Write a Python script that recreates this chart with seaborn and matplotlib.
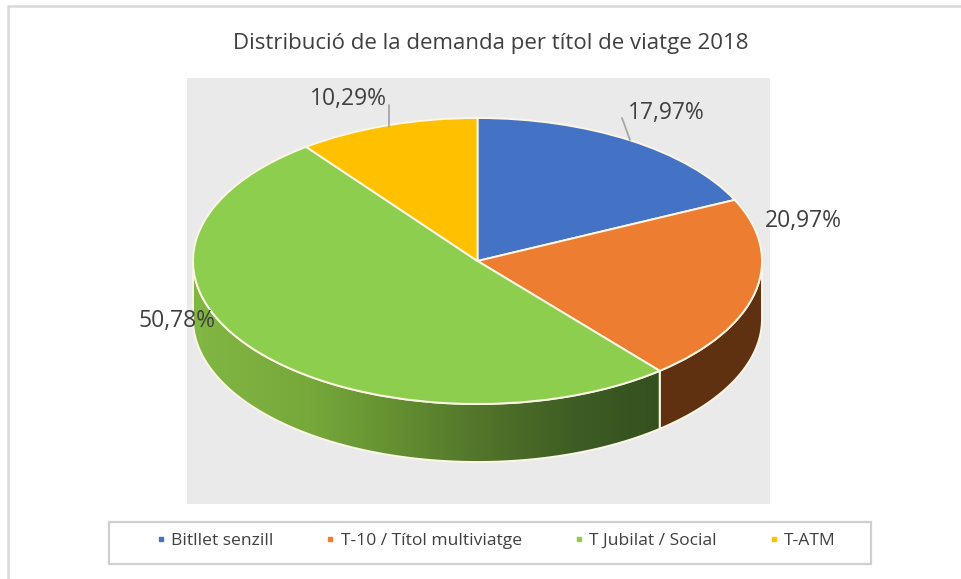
import numpy as np
import matplotlib
matplotlib.use("Agg")
import matplotlib.pyplot as plt
from matplotlib.colors import LinearSegmentedColormap
from matplotlib.lines import Line2D
from matplotlib.patches import PathPatch, Rectangle
from matplotlib.path import Path
import seaborn as sns

# ------------------------------------------------------------------
# Data
# ------------------------------------------------------------------
categories = ["Bitllet senzill", "T-10 / Títol multiviatge", "T Jubilat / Social", "T-ATM"]
shares = [17.97, 20.97, 50.78, 10.29]
title = "Distribució de la demanda per títol de viatge 2018"

top_colors = ["#4472C4", "#ED7D31", "#8ECE4E", "#FFC000"]
wall_orange = "#5F3110"
wall_green = [(0, "#82B744"), (0.25, "#76A83A"), (0.45, "#628D31"),
              (0.65, "#4F7029"), (0.82, "#3E5D24"), (1, "#34501F")]

W, H = 961, 579
PANEL = (187, 78, 770, 504)    # left, top, right, bottom in pixels
CX, CY, RX, RY = 477.5, 261, 284.5, 143
DEPTH = 58 / RY

sns.set_theme(style="white")
plt.rcParams["font.family"] = ["Open Sans", "DejaVu Sans"]
TEXT = "#404040"
EDGE = "#FBF6E6"

fig = plt.figure(figsize=(W / 100, H / 100), dpi=100, facecolor="white")

# ------------------------------------------------------------------
# Pie, squashed to an ellipse by the axes limits
# ------------------------------------------------------------------
ax = fig.add_axes([PANEL[0] / W, 1 - PANEL[3] / H, (PANEL[2] - PANEL[0]) / W, (PANEL[3] - PANEL[1]) / H])
ax.pie(shares, colors=top_colors, startangle=90, counterclock=False, radius=1,
       wedgeprops={"edgecolor": EDGE, "linewidth": 1.4, "zorder": 5})
ax.set_aspect("auto")
xlim = ((PANEL[0] - CX) / RX, (PANEL[2] - CX) / RX)
ylim = ((CY - PANEL[3]) / RY, (CY - PANEL[1]) / RY)
ax.set_frame_on(True)
ax.set_facecolor("#EAEAEA")
for s in ax.spines.values():
    s.set_visible(False)

# side wall, angles measured clockwise from the top
cut = np.radians(360 * (shares[0] + shares[1]) / sum(shares))


def wall_path(t0, t1):
    t = np.linspace(t0, t1, 200)
    xs, ys = np.sin(t), np.cos(t)
    verts = np.vstack([np.column_stack([xs, ys]), np.column_stack([xs[::-1], ys[::-1] - DEPTH])])
    return Path(np.vstack([verts, verts[0]]), closed=True)


ax.add_patch(PathPatch(wall_path(np.pi / 2, cut), facecolor=wall_orange, edgecolor=EDGE, linewidth=1.4, zorder=2))
green_path = wall_path(cut, 3 * np.pi / 2)
cmap = LinearSegmentedColormap.from_list("wall", wall_green)
img = ax.imshow(np.linspace(0, 1, 256)[None, :], cmap=cmap, extent=(-1, np.sin(cut), -1 - DEPTH, 0),
                aspect="auto", zorder=2)
outline = PathPatch(green_path, facecolor="none", edgecolor=EDGE, linewidth=1.4, zorder=3)
ax.add_patch(outline)
img.set_clip_path(outline)
ax.set_xlim(xlim)
ax.set_ylim(ylim)
ax.set_aspect("auto")

# ------------------------------------------------------------------
# Overlay in pixel coordinates: frame, title, labels, legend
# ------------------------------------------------------------------
over = fig.add_axes([0, 0, 1, 1], zorder=10)
over.set_xlim(0, W)
over.set_ylim(H, 0)
over.axis("off")

# the chart frame is cut off on the right and at the bottom
over.plot([8, 8, W], [H, 6, 6], color="#D9D9D9", linewidth=1.8, solid_joinstyle="miter")
over.text(491, 43.5, title, ha="center", va="center", fontsize=16, color=TEXT)

labels = [f"{v:.2f}%".replace(".", ",") for v in shares]
label_pos = [(666.5, 112.5), (803.5, 220.5), (177, 321.5), (348.5, 98.5)]
for lab, (x, y) in zip(labels, label_pos):
    over.text(x, y, lab, ha="center", va="center", fontsize=16.5, color=TEXT)
over.plot([622, 630], [118, 140], color="#A6A6A6", linewidth=1.3)
over.plot([388.5, 388.5], [105, 127], color="#A6A6A6", linewidth=1.3)

over.add_patch(Rectangle((109, 522), 762, 41.5, fill=False, edgecolor="#CFCFCF", linewidth=1.6))
handles = [Line2D([], [], linestyle="none", marker="s", markersize=3.5, color=c) for c in top_colors]
over.legend(handles, categories, loc="center", bbox_to_anchor=(494 / W, 1 - 541 / H),
            bbox_transform=fig.transFigure, ncol=4, frameon=False, fontsize=12.6, labelcolor=TEXT,
            columnspacing=2.75, handletextpad=0.1, handlelength=1.0)

fig.savefig("out.png", dpi=100)
